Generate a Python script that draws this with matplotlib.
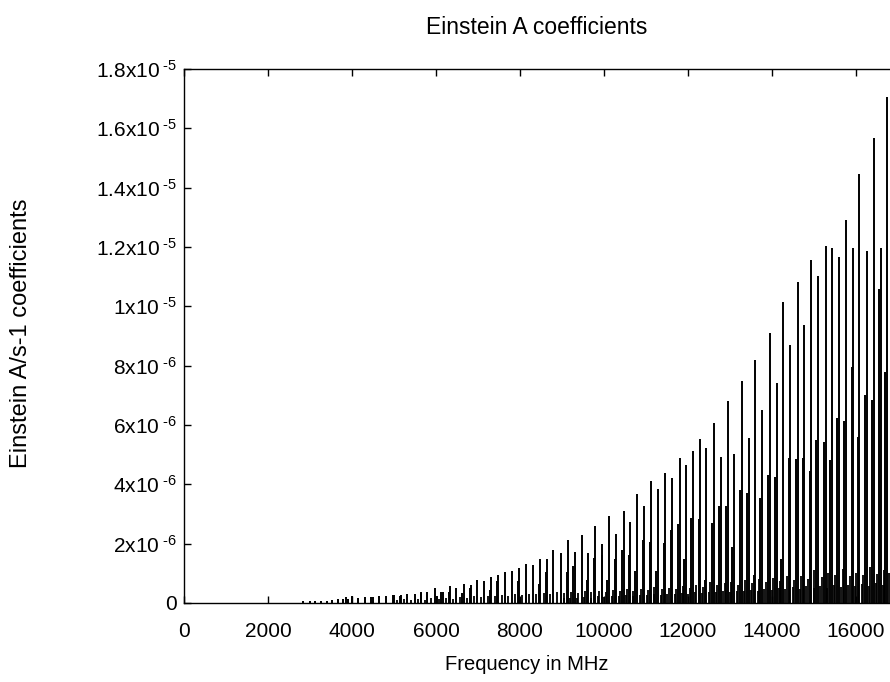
import matplotlib
matplotlib.use("Agg")
from matplotlib import pyplot as plt

# strong lines (main envelope), frequency in MHz and A in s^-1
strong_freq = [2837, 2996, 3123, 3258, 3393, 3520, 3655, 3781, 3900, 4012,
               4154, 4312, 4447, 4645, 4811, 4987, 5160, 5320, 5493, 5652,
               5795, 5985, 6159, 6326, 6485, 6658, 6825, 6968, 7142, 7317,
               7483, 7633, 7808, 7983, 8133, 8299, 8474, 8649, 8792, 8965,
               9139, 9315, 9465, 9615, 9797, 9956, 10130, 10297, 10471, 10614,
               10789, 10963, 11129, 11279, 11462, 11628, 11802, 11954, 12120, 12294,
               12437, 12611, 12786, 12960, 13103, 13286, 13444, 13595, 13769, 13943,
               14118, 14261, 14435, 14609, 14752, 14927, 15093, 15275, 15418, 15593,
               15767, 15940, 16083, 16259, 16432, 16606, 16749]
strong_A = [6e-8, 6e-8, 6e-8, 7e-8, 8e-8, 1.1e-7, 1.3e-7, 1.5e-7, 1.3e-7, 2.1e-7,
            1.7e-7, 1.9e-7, 2.0e-7, 2.3e-7, 2.2e-7, 2.8e-7, 2.6e-7, 3.0e-7, 3.0e-7, 3.7e-7,
            3.6e-7, 4.9e-7, 3.8e-7, 5.8e-7, 4.9e-7, 6.3e-7, 6.0e-7, 7.8e-7, 7.3e-7, 8.9e-7,
            9.3e-7, 1.03e-6, 1.08e-6, 1.18e-6, 1.32e-6, 1.27e-6, 1.48e-6, 1.48e-6, 1.79e-6, 1.68e-6,
            2.12e-6, 1.73e-6, 2.29e-6, 1.68e-6, 2.60e-6, 1.98e-6, 2.93e-6, 2.33e-6, 3.11e-6, 2.72e-6,
            3.67e-6, 3.27e-6, 4.12e-6, 3.83e-6, 4.37e-6, 4.20e-6, 4.88e-6, 4.66e-6, 5.12e-6, 5.52e-6,
            5.21e-6, 6.08e-6, 4.91e-6, 6.81e-6, 5.02e-6, 7.49e-6, 5.56e-6, 8.19e-6, 6.51e-6, 9.09e-6,
            7.41e-6, 1.016e-5, 8.70e-6, 1.083e-5, 9.37e-6, 1.156e-5, 1.102e-5, 1.203e-5, 1.198e-5, 1.167e-5,
            1.291e-5, 1.198e-5, 1.446e-5, 1.187e-5, 1.567e-5, 1.198e-5, 1.706e-5]

# medium lines sitting next to the strong ones
medium_freq = [3853, 4012, 4511, 5001, 5144, 5636, 6016, 6111, 6310, 6627,
               6801, 7285, 7460, 7950, 8133, 8450, 8609, 9108, 9274, 9600,
               9774, 9941, 10075, 10257, 10432, 10600, 10749, 10931, 11097, 11248,
               11418, 11593, 11763, 11917, 12083, 12258, 12413, 12572, 12730, 12905,
               13055, 13229, 13405, 13562, 13721, 13895, 14071, 14220, 14394, 14570,
               14736, 14894, 15053, 15227, 15393, 15552, 15726, 15901, 16044, 16218,
               16385, 16558, 16701]
medium_A = [1.9e-7, 2.4e-7, 2.0e-7, 2.7e-7, 2.3e-7, 3.5e-7, 2.4e-7, 3.8e-7, 3.8e-7, 3.5e-7,
            5.2e-7, 4.4e-7, 7.5e-7, 7.4e-7, 3.3e-7, 6.4e-7, 1.03e-6, 1.03e-6, 1.24e-6, 7.8e-7,
            1.53e-6, 1.63e-6, 7.8e-7, 1.47e-6, 1.79e-6, 1.63e-6, 1.09e-6, 2.12e-6, 2.07e-6, 1.09e-6,
            2.01e-6, 2.47e-6, 2.67e-6, 1.47e-6, 2.87e-6, 2.82e-6, 7.8e-7, 2.69e-6, 3.27e-6, 3.27e-6,
            1.90e-6, 3.81e-6, 3.70e-6, 9.4e-7, 3.53e-6, 4.31e-6, 4.26e-6, 1.47e-6, 4.90e-6, 4.84e-6,
            4.90e-6, 4.46e-6, 5.49e-6, 5.44e-6, 4.82e-6, 6.23e-6, 6.15e-6, 7.97e-6, 5.61e-6, 7.0e-6,
            6.84e-6, 1.057e-5, 7.80e-6]

# weak lines forming the dense floor
weak_freq = [5080, 5240, 5400, 5570, 5730, 5890, 6060, 6230, 6400, 6570,
             6740, 6900, 7060, 7230, 7400, 7560, 7720, 7890, 8050, 8220,
             8390, 8560, 8720, 8880, 9050, 9220, 9390, 9540, 9700, 9870,
             10040, 10210, 10380, 10540, 10700, 10870, 11040, 11200, 11370, 11540,
             11710, 11880, 12040, 12200, 12360, 12520, 12690, 12870, 13030, 13190,
             13360, 13520, 13680, 13850, 14030, 14180, 14350, 14520, 14690, 14850,
             15010, 15180, 15340, 15510, 15680, 15850, 16000, 16170, 16340, 16510,
             16660, 16790]
weak_A = [1.0e-7, 1.2e-7, 9e-8, 1.4e-7, 1.1e-7, 1.6e-7, 1.3e-7, 1.8e-7, 1.5e-7, 2.0e-7,
          1.7e-7, 2.2e-7, 2.0e-7, 2.5e-7, 2.2e-7, 2.8e-7, 2.4e-7, 3.0e-7, 2.6e-7, 3.2e-7,
          2.9e-7, 3.4e-7, 3.1e-7, 3.6e-7, 3.3e-7, 3.8e-7, 3.5e-7, 4.0e-7, 3.6e-7, 4.2e-7,
          3.8e-7, 4.4e-7, 4.0e-7, 4.6e-7, 4.2e-7, 4.8e-7, 4.4e-7, 5.4e-7, 4.6e-7, 5.2e-7,
          4.8e-7, 5.6e-7, 5.0e-7, 6.2e-7, 5.4e-7, 7.2e-7, 6.0e-7, 6.6e-7, 7.0e-7, 6.2e-7,
          7.6e-7, 6.8e-7, 8.2e-7, 7.0e-7, 8.4e-7, 7.4e-7, 9.2e-7, 7.8e-7, 9.0e-7, 8.2e-7,
          1.1e-6, 8.8e-7, 1.0e-6, 9.4e-7, 1.15e-6, 9.0e-7, 1.0e-6, 9.6e-7, 1.2e-6, 9.8e-7,
          1.1e-6, 1.0e-6]

# faint lines filling the gaps
faint_freq = [9050, 9180, 9350, 9520, 9690, 9860, 10010, 10180, 10350, 10520,
              10680, 10850, 11020, 11180, 11350, 11510, 11680, 11850, 12010, 12170,
              12340, 12500, 12660, 12830, 13000, 13160, 13330, 13500, 13660, 13820,
              13990, 14160, 14320, 14490, 14660, 14820, 14990, 15150, 15320, 15480,
              15650, 15820, 15980, 16150, 16310, 16480, 16640]
faint_A = [1.6e-7, 1.8e-7, 1.7e-7, 2.0e-7, 1.8e-7, 2.2e-7, 2.0e-7, 2.4e-7, 2.2e-7, 2.6e-7,
           2.4e-7, 2.8e-7, 2.6e-7, 3.0e-7, 2.8e-7, 3.2e-7, 3.0e-7, 3.4e-7, 3.2e-7, 3.6e-7,
           3.4e-7, 3.8e-7, 3.6e-7, 4.0e-7, 3.8e-7, 4.2e-7, 4.0e-7, 4.4e-7, 4.2e-7, 4.8e-7,
           4.4e-7, 5.0e-7, 4.6e-7, 5.4e-7, 4.8e-7, 5.6e-7, 5.0e-7, 5.8e-7, 5.2e-7, 6.0e-7,
           5.4e-7, 6.2e-7, 5.6e-7, 6.4e-7, 5.8e-7, 6.6e-7, 6.0e-7]

x_ticks = [0, 2000, 4000, 6000, 8000, 10000, 12000, 14000, 16000]
y_ticks = [0, 2e-6, 4e-6, 6e-6, 8e-6, 1e-5, 1.2e-5, 1.4e-5, 1.6e-5, 1.8e-5]
y_tick_labels = ["0", r"2x10$^{\text{ -6}}$", r"4x10$^{\text{ -6}}$", r"6x10$^{\text{ -6}}$",
                 r"8x10$^{\text{ -6}}$", r"1x10$^{\text{ -5}}$", r"1.2x10$^{\text{ -5}}$",
                 r"1.4x10$^{\text{ -5}}$", r"1.6x10$^{\text{ -5}}$", r"1.8x10$^{\text{ -5}}$"]

plt.rcParams['font.family'] = ['Liberation Sans', 'DejaVu Sans']
plt.rcParams['mathtext.fontset'] = 'custom'
plt.rcParams['mathtext.rm'] = 'Liberation Sans'
plt.rcParams['mathtext.it'] = 'Liberation Sans'
plt.rcParams['mathtext.default'] = 'regular'

fig = plt.figure(figsize=(8.9, 6.82), dpi=100)
ax = fig.add_axes([184 / 890, 1 - 603 / 682, 706 / 890, 534 / 682])

ax.vlines(faint_freq, 0, faint_A, color='black', linewidth=1.3)
ax.vlines(weak_freq, 0, weak_A, color='black', linewidth=1.3)
ax.vlines(medium_freq, 0, medium_A, color='black', linewidth=1.4)
ax.vlines(strong_freq, 0, strong_A, color='black', linewidth=1.4)

ax.set_xlim(0, 16810)
ax.set_ylim(0, 1.8e-5)
ax.set_xticks(x_ticks)
ax.set_yticks(y_ticks)
ax.set_yticklabels(y_tick_labels)
ax.tick_params(direction='in', length=5, width=1.0, top=True, right=False,
               labelsize=15, colors='black')
ax.tick_params(axis='x', pad=14)
ax.tick_params(axis='y', pad=5)
for side in ['left', 'top', 'bottom']:
    ax.spines[side].set_linewidth(1.0)
ax.spines['right'].set_visible(False)

fig.text(537 / 890, 1 - 28 / 682, "Einstein A coefficients", ha='center', va='center', fontsize=16.5)
fig.text(527 / 890, 1 - 665 / 682, "Frequency in MHz", ha='center', va='center', fontsize=14.5)
fig.text(21 / 890, 1 - 333 / 682, "Einstein A/s-1 coefficients", ha='center', va='center',
         rotation=90, fontsize=17)

plt.savefig("out.png", dpi=100)
